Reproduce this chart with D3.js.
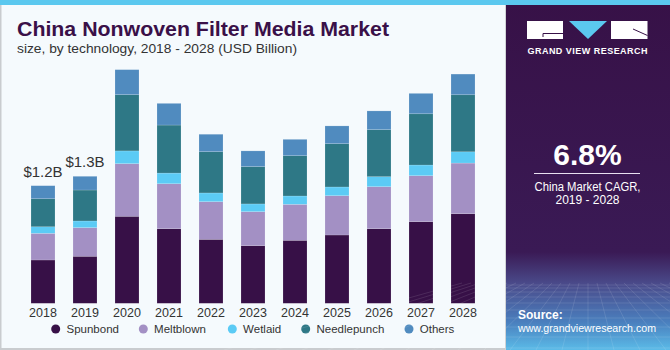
<!DOCTYPE html>
<html><head><meta charset="utf-8">
<script src="https://cdn.jsdelivr.net/npm/d3@7"></script>
<style>
html,body{margin:0;padding:0;background:#fff;}
svg{display:block;font-family:"Liberation Sans",Arial,sans-serif;}
</style></head>
<body>
<svg id="chart" width="670" height="350"></svg>
<script>
const years = ["2018","2019","2020","2021","2022","2023","2024","2025","2026","2027","2028"];
const seriesNames = ["Spunbond","Meltblown","Wetlaid","Needlepunch","Others"];
const spunbond    = [0.442,0.480,0.888,0.761,0.653,0.588,0.643,0.697,0.761,0.833,0.914];
const meltblown   = [0.272,0.292,0.537,0.459,0.384,0.347,0.367,0.401,0.429,0.469,0.517];
const wetlaid     = [0.067,0.068,0.130,0.109,0.089,0.079,0.085,0.089,0.102,0.109,0.115];
const needlepunch = [0.286,0.316,0.574,0.490,0.421,0.381,0.411,0.442,0.480,0.523,0.582];
const others      = [0.133,0.140,0.255,0.221,0.178,0.160,0.167,0.181,0.191,0.208,0.211];
const colors = ["#371047","#a390c4","#5bcbf5","#2e7886","#508bbf"];
const annotations = [{year:"2018", label:"$1.2B"},{year:"2019", label:"$1.3B"}];

const svg = d3.select("#chart");
const W = 670, H = 350;

// backgrounds
svg.append("rect").attr("x",0).attr("y",0).attr("width",W).attr("height",H).attr("fill","#f5fafd");
svg.append("rect").attr("x",0).attr("y",0).attr("width",1.5).attr("height",H).attr("fill","#c9cccf");
svg.append("rect").attr("x",0).attr("y",348).attr("width",506).attr("height",2).attr("fill","#c9cccf");

// data table
const table = years.map((y,i)=>({year:y, Spunbond:spunbond[i], Meltblown:meltblown[i], Wetlaid:wetlaid[i], Needlepunch:needlepunch[i], Others:others[i]}));
const stacked = d3.stack().keys(seriesNames)(table);

const x = d3.scaleBand().domain(years).range([22,484]).paddingInner(3/7).paddingOuter(3/14);
const y = d3.scaleLinear().domain([0,2.5]).range([303.3, 303.3-2.5*98]);

const g = svg.append("g");
g.selectAll("g.series").data(stacked).join("g")
  .attr("class","series")
  .attr("fill",(d,i)=>colors[i])
  .selectAll("rect").data(d=>d).join("rect")
  .attr("x",d=>x(d.data.year))
  .attr("y",d=>y(d[1]))
  .attr("width",x.bandwidth())
  .attr("height",d=>y(d[0])-y(d[1]))
  .attr("stroke","rgba(255,255,255,0.25)")
  .attr("stroke-width",0.6);

// axis
const axis = svg.append("g").attr("transform","translate(0,303.3)")
  .call(d3.axisBottom(x).tickSize(0).tickPadding(4.5));
axis.select(".domain").remove();
axis.selectAll("text").attr("font-size","12.5px").attr("fill","#333")
  .attr("font-family","'Liberation Sans',Arial,sans-serif");

// annotations
const totals = years.map((yr,i)=>spunbond[i]+meltblown[i]+wetlaid[i]+needlepunch[i]+others[i]);
svg.selectAll("text.ann").data(annotations).join("text").attr("class","ann")
  .attr("x",d=>x(d.year)+x.bandwidth()/2)
  .attr("y",d=>y(totals[years.indexOf(d.year)])-9)
  .attr("text-anchor","middle").attr("font-size","15px").attr("fill","#333")
  .text(d=>d.label);

// legend
const legendX = [55.7,143.3,232.3,305.7,409];
const leg = svg.selectAll("g.leg").data(seriesNames).join("g").attr("class","leg")
  .attr("transform",(d,i)=>`translate(${legendX[i]},329)`);
leg.append("circle").attr("r",4.5).attr("fill",(d,i)=>colors[i]);
leg.append("text").attr("x",10.8).attr("y",4.3).attr("font-size","11.5px").attr("fill","#333").text(d=>d);

// title
svg.append("text").attr("x",17).attr("y",35.5).attr("font-size","21px").attr("font-weight","bold")
  .attr("fill","#3a1048").attr("textLength",372).attr("lengthAdjust","spacingAndGlyphs")
  .text("China Nonwoven Filter Media Market");
svg.append("text").attr("x",17).attr("y",53.3).attr("font-size","13.5px").attr("fill","#333")
  .attr("textLength",280).attr("lengthAdjust","spacingAndGlyphs")
  .text("size, by technology, 2018 - 2028 (USD Billion)");

// right panel
const defs = svg.append("defs");
const grad = defs.append("linearGradient").attr("id","pg").attr("x1",0).attr("y1",0).attr("x2",0).attr("y2",1);
grad.append("stop").attr("offset","0").attr("stop-color","#371147");
grad.append("stop").attr("offset","0.72").attr("stop-color","#3a1a55");
grad.append("stop").attr("offset","0.81").attr("stop-color","#4a4a8a");
grad.append("stop").attr("offset","0.92").attr("stop-color","#4a7fbe");
grad.append("stop").attr("offset","1").attr("stop-color","#5bbbe8");
svg.append("rect").attr("x",505).attr("y",0).attr("width",1.5).attr("height",H).attr("fill","#d0d3d6");
svg.append("rect").attr("x",506).attr("y",0).attr("width",164).attr("height",H).attr("fill","url(#pg)");

// grid pattern in bottom of panel
const gridG = svg.append("g").attr("stroke","rgba(255,255,255,0.16)").attr("stroke-width",0.7).attr("fill","none");
const hLines = [285,288,292,297,303,310,318,327,337,348];
hLines.forEach(h=>gridG.append("line").attr("x1",506).attr("x2",670).attr("y1",h).attr("y2",h));
for(let k=-14;k<=14;k++){
  gridG.append("line").attr("x1",588+k*9).attr("y1",283).attr("x2",588+k*26).attr("y2",350);
}

// top strip
svg.append("rect").attr("x",0).attr("y",0).attr("width",W).attr("height",5).attr("fill","#5bc8ef");

// logo
const logo = svg.append("g");
logo.append("rect").attr("x",527).attr("y",21).attr("width",36).attr("height",18).attr("fill","#fff");
logo.append("path").attr("d","M543,33.5 H563 M543,33.5 V37").attr("stroke","#371147").attr("stroke-width",1).attr("fill","none");
logo.append("path").attr("d","M569,21 L607,21 L588,39 Z").attr("fill","#5bc8ef");
logo.append("rect").attr("x",611).attr("y",21).attr("width",36.5).attr("height",18).attr("fill","#fff");
logo.append("path").attr("d","M633,29 L647.5,35.5").attr("stroke","#371147").attr("stroke-width",1);
svg.append("text").attr("x",587.5).attr("y",53.5).attr("text-anchor","middle").attr("font-size","9px")
  .attr("font-weight","bold").attr("fill","#fff").attr("textLength",120).attr("lengthAdjust","spacing")
  .text("GRAND VIEW RESEARCH");

// CAGR
svg.append("text").attr("x",587.5).attr("y",165).attr("text-anchor","middle").attr("font-size","30px")
  .attr("font-weight","bold").attr("fill","#fff").text("6.8%");
svg.append("line").attr("x1",534).attr("x2",640).attr("y1",173.5).attr("y2",173.5).attr("stroke","#e8e0f0").attr("stroke-width",1);
svg.append("text").attr("x",587.5).attr("y",190.5).attr("text-anchor","middle").attr("font-size","12px")
  .attr("fill","#fff").attr("textLength",106).attr("lengthAdjust","spacingAndGlyphs").text("China Market CAGR,");
svg.append("text").attr("x",587.5).attr("y",204.3).attr("text-anchor","middle").attr("font-size","12px")
  .attr("fill","#fff").text("2019 - 2028");

// source
svg.append("text").attr("x",518).attr("y",319.3).attr("font-size","12px").attr("font-weight","bold").attr("fill","#fff").text("Source:");
svg.append("text").attr("x",518).attr("y",332.3).attr("font-size","11.5px").attr("fill","#fff")
  .attr("textLength",138).attr("lengthAdjust","spacingAndGlyphs").text("www.grandviewresearch.com");
</script>
</body></html>
